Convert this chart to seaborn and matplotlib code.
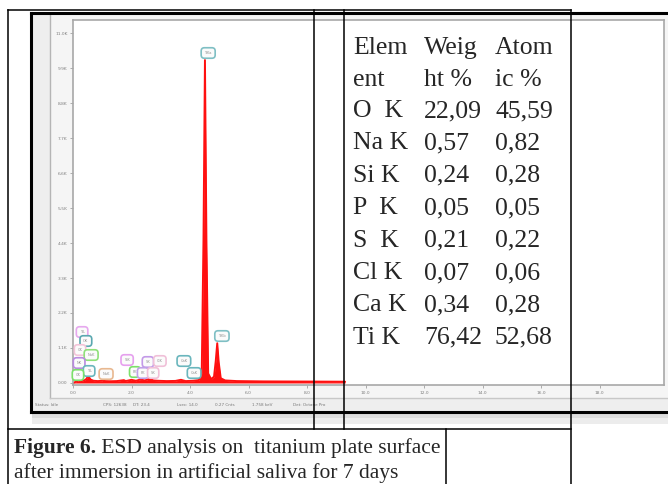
import matplotlib
matplotlib.use("Agg")
import matplotlib.pyplot as plt
from matplotlib.lines import Line2D
from matplotlib.patches import Rectangle
import pandas as pd
import seaborn as sns

# ---------------- data ----------------
energy_kev = [0.00, 0.10, 0.20, 0.30, 0.40, 0.45, 0.52, 0.60, 0.70, 0.85, 1.00, 1.04, 1.10,
              1.30, 1.50, 1.74, 1.80, 2.00, 2.15, 2.31, 2.45, 2.62, 2.75, 2.90, 3.20, 3.50,
              3.69, 3.85, 4.10, 4.30, 4.40, 4.46, 4.51, 4.56, 4.62, 4.72, 4.82, 4.88, 4.93,
              4.98, 5.05, 5.20, 5.60, 6.50, 8.00, 9.30]
counts = [0, 40, 80, 60, 90, 120, 220, 110, 70, 60, 70, 90, 60,
          55, 60, 90, 60, 100, 70, 110, 80, 130, 80, 70, 60, 65,
          100, 60, 70, 90, 300, 4500, 10150, 4500, 300, 120, 200, 700, 1250,
          650, 150, 80, 60, 50, 45, 40]

x_ticks = [0, 2, 4, 6, 8, 10, 12, 14, 16, 18]
x_tick_labels = ["0.0", "2.0", "4.0", "6.0", "8.0", "10.0", "12.0", "14.0", "16.0", "18.0"]
y_ticks = [0, 1100, 2200, 3300, 4400, 5500, 6600, 7700, 8800, 9900, 11000]
y_tick_labels = ["0.00", "1.1K", "2.2K", "3.3K", "4.4K", "5.5K", "6.6K", "7.7K", "8.8K", "9.9K", "11.0K"]

peak_label_text = ["TiKa", "TiKb", "TiL", "OK", "CK", "NaK", "NK", "TiL", "CK",
                   "NaK", "SiK", "PK", "SK", "ClK", "PK", "SK", "CaK", "CaK"]
peak_label_e = [4.62, 5.09, 0.31, 0.44, 0.24, 0.62, 0.21, 0.55, 0.17,
                1.13, 1.85, 2.12, 2.56, 2.97, 2.39, 2.74, 3.79, 4.14]
peak_label_c = [10372, 1477, 1603, 1320, 1037, 880, 629, 377, 251,
                283, 723, 346, 660, 691, 314, 314, 691, 314]
peak_label_color = ["#7fbfc4", "#7fbfc4", "#e6a8ee", "#5aa8b0", "#f3c4d8", "#8fe07a", "#b98ae0",
                    "#6ab6bd", "#7be06a", "#e8b890", "#e6a0ee", "#7de06a", "#c39ae8", "#f0c0d8",
                    "#c0a0e8", "#f0c0d8", "#6ab6bd", "#6ab6bd"]

table_header_1 = ["Elem", "Weig", "Atom"]
table_header_2 = ["ent", "ht %", "ic %"]
elements = ["O  K", "Na K", "Si K", "P  K", "S  K", "Cl K", "Ca K", "Ti K"]
weight_pct = ["22,09", "0,57", "0,24", "0,05", "0,21", "0,07", "0,34", "76,42"]
atomic_pct = ["45,59", "0,82", "0,28", "0,05", "0,22", "0,06", "0,28", "52,68"]

status_items = ["Status: Idle", "CPS: 12638", "DT: 23.4", "Lsec: 14.0", "0.27 Cnts",
                "1.758 keV", "Det: Octane Pro"]

caption_bold = "Figure 6."
caption_rest = " ESD analysis on  titanium plate surface"
caption_line2 = "after immersion in artificial saliva for 7 days"

# ---------------- figure ----------------
sns.set_style("white")
W, H = 668, 484
fig = plt.figure(figsize=(W / 100, H / 100), dpi=100)
fig.patch.set_facecolor("white")


def fx(x):
    return x / W


def fy(y):
    return 1 - y / H


def rect(x0, y0, x1, y1, color, z=0, **kw):
    fig.add_artist(Rectangle((fx(x0), fy(y1)), fx(x1) - fx(x0), fy(y0) - fy(y1),
                             transform=fig.transFigure, facecolor=color, edgecolor="none",
                             zorder=z, **kw))


def line(x0, y0, x1, y1, color="black", lw=1.1, z=5):
    fig.add_artist(Line2D([fx(x0), fx(x1)], [fy(y0), fy(y1)], transform=fig.transFigure,
                          color=color, lw=lw, zorder=z, solid_capstyle="projecting"))


# screenshot window background
rect(32, 14, 668, 411, "#eeeeee", z=0)
rect(50, 14, 668, 398, "#f5f5f5", z=0)
# shadow below window
rect(32, 412, 668, 418, "#dcdcdc", z=0)
rect(32, 418, 668, 424, "#ececec", z=0)
line(50, 14, 50, 398, color="#b5b5b5", lw=1.0, z=1)
line(50, 398, 668, 398, color="#c8c8c8", lw=1.0, z=1)
# thick screenshot frame
line(31, 13, 668, 13, lw=2.2, z=6)
line(31, 13, 31, 412, lw=2.2, z=6)
line(31, 412, 668, 412, lw=2.2, z=6)

# status bar text
status_x = [35, 103, 133, 177, 215, 252, 293]
for t, x in zip(status_items, status_x):
    fig.text(fx(x), fy(405), t, fontsize=3.0, color="#777777", va="center", ha="left", zorder=3)

# ---------------- spectrum axes ----------------
ax = fig.add_axes([fx(73), fy(385), fx(664) - fx(73), fy(20) - fy(385)])
ax.set_zorder(2)
df = pd.DataFrame({"Energy (keV)": energy_kev, "Counts": counts})
ax.fill_between(df["Energy (keV)"], df["Counts"], 0, color="#ff1010", lw=0)
sns.lineplot(data=df, x="Energy (keV)", y="Counts", ax=ax, color="#ff1010", lw=1.4)
ax.set_xlim(0, 20.2)
ax.set_ylim(-63, 11409)
ax.set_xticks(x_ticks)
ax.set_xticklabels(x_tick_labels)
ax.set_yticks(y_ticks)
ax.set_yticklabels(y_tick_labels)
ax.tick_params(axis="both", labelsize=3.2, labelcolor="#808080", color="#a0a0a0",
               length=2, width=0.6, pad=2, left=True, bottom=True)
ax.set_xlabel("")
ax.set_ylabel("")
for s in ax.spines.values():
    s.set_color("#a8a8a8")
    s.set_linewidth(1.2)
ax.set_facecolor("white")

for t, e, c, col in zip(peak_label_text, peak_label_e, peak_label_c, peak_label_color):
    ax.text(e, c, t, fontsize=2.6, color="#909090", ha="center", va="center", zorder=4,
            bbox=dict(boxstyle="round,pad=0.9", fc="#fbfbfb", ec=col, lw=1.2))

# ---------------- table overlay ----------------
line(8, 10, 571, 10)
line(8, 10, 8, 484)
line(314, 10, 314, 429)
line(344, 10, 344, 429)
line(571, 10, 571, 484)
line(8, 429, 571, 429)
line(446, 429, 446, 484)

serif = "Liberation Serif"
col_x = [353, 424, 495]
fs_tab = 18.5
for x, t in zip(col_x, table_header_1):
    fig.text(fx(x), fy(48), t, family=serif, fontsize=fs_tab, va="center", ha="left", zorder=7)
for x, t in zip(col_x, table_header_2):
    fig.text(fx(x), fy(80), t, family=serif, fontsize=fs_tab, va="center", ha="left", zorder=7)
for i, (el, w, a) in enumerate(zip(elements, weight_pct, atomic_pct)):
    yy = 111 + i * 32.4
    for x, t in zip(col_x, (el, w, a)):
        fig.text(fx(x), fy(yy), t, family=serif, fontsize=fs_tab, va="center", ha="left", zorder=7)

# ---------------- caption ----------------
fs_cap = 15.5
tb = fig.text(fx(14), fy(453), caption_bold, family=serif, fontsize=fs_cap, fontweight="bold",
              va="baseline", ha="left", zorder=7)
fig.canvas.draw()
bb = tb.get_window_extent()
fig.text(bb.x1 / W, fy(453), caption_rest, family=serif, fontsize=fs_cap,
         va="baseline", ha="left", zorder=7)
fig.text(fx(14), fy(478), caption_line2, family=serif, fontsize=fs_cap,
         va="baseline", ha="left", zorder=7)

fig.savefig("out.png", dpi=100)
